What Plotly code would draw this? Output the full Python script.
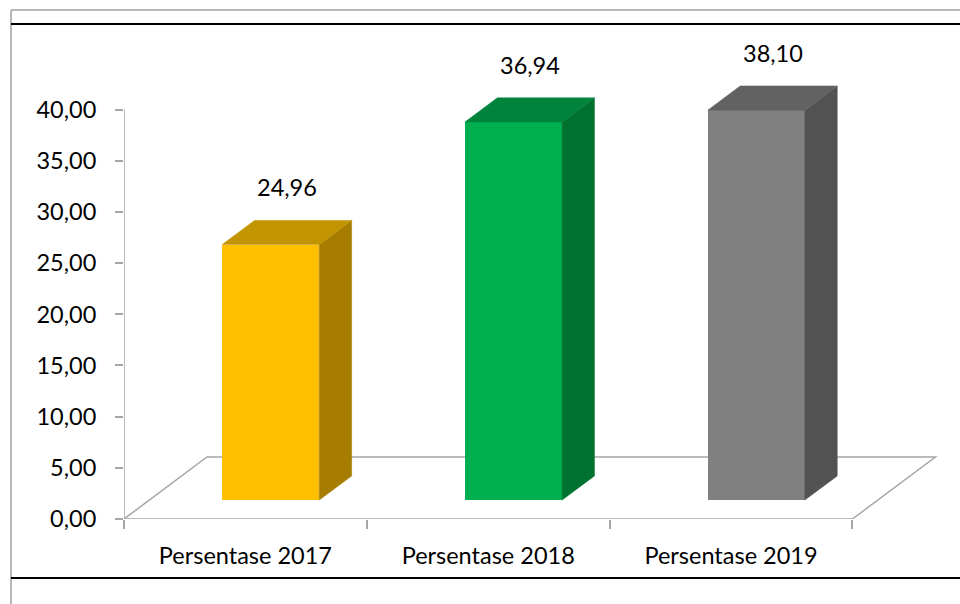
import plotly.graph_objects as go

# ---- data ----
categories = ["Persentase 2017", "Persentase 2018", "Persentase 2019"]
values = [24.96, 36.94, 38.10]
value_labels = ["24,96", "36,94", "38,10"]
y_tickvals = [0, 5, 10, 15, 20, 25, 30, 35, 40]
y_ticktext = ["0,00", "5,00", "10,00", "15,00", "20,00", "25,00", "30,00", "35,00", "40,00"]

front_colors = ["#FFC000", "#00B050", "#808080"]
top_colors = ["#C29400", "#00843C", "#626262"]
side_colors = ["#A67D00", "#00722F", "#525252"]

# ---- geometry (pseudo-3D) ----
W_PX, H_PX = 960, 604
ML, MR, MT, MB = 124, 10, 59, 85
PX_PER_X = 242.8
PX_PER_Y = 10.235
plot_w = W_PX - ML - MR
plot_h = H_PX - MT - MB
x_max = plot_w / PX_PER_X
y_max = plot_h / PX_PER_Y

DX = 83 / PX_PER_X      # depth vector (x units)
DY = 62 / PX_PER_Y      # depth vector (y units)
T0, T1 = 0.305, 0.695   # bar depth slice
BW = 0.4                # bar width
n = len(categories)

FONT = "Lato, Calibri, Carlito, sans-serif"
FS = 23.5
AXIS_GRAY = "#A6A6A6"

fig = go.Figure()

# front faces as bars
fx = [i + 0.5 + T0 * DX for i in range(n)]
fig.add_trace(go.Bar(
    x=fx, y=values, base=[T0 * DY] * n, width=BW,
    marker=dict(color=front_colors, line=dict(width=0)),
    hoverinfo="skip", showlegend=False,
))

# side and top faces
ddx = (T1 - T0) * DX
ddy = (T1 - T0) * DY
for i, v in enumerate(values):
    xl = fx[i] - BW / 2
    xr = fx[i] + BW / 2
    yb = T0 * DY
    yt = yb + v
    # side
    fig.add_trace(go.Scatter(
        x=[xr, xr + ddx, xr + ddx, xr, xr],
        y=[yb, yb + ddy, yt + ddy, yt, yb],
        fill="toself", fillcolor=side_colors[i], mode="lines",
        line=dict(width=0.5, color=side_colors[i]), hoverinfo="skip", showlegend=False,
    ))
    # top
    fig.add_trace(go.Scatter(
        x=[xl, xr, xr + ddx, xl + ddx, xl],
        y=[yt, yt, yt + ddy, yt + ddy, yt],
        fill="toself", fillcolor=top_colors[i], mode="lines",
        line=dict(width=0.5, color=top_colors[i]), hoverinfo="skip", showlegend=False,
    ))
    # value label
    fig.add_annotation(
        x=fx[i] + ddx / 2, y=yt + ddy, text=value_labels[i],
        showarrow=False, yshift=33, yanchor="middle",
        font=dict(family=FONT, size=FS, color="#000000"),
    )

shapes = []
# floor
shapes.append(dict(
    type="path", xref="x", yref="y", layer="below",
    path=f"M 0,0 L {n},0 L {n + DX},{DY} L {DX},{DY} Z",
    line=dict(color=AXIS_GRAY, width=1.5), fillcolor="rgba(0,0,0,0)",
))
# y axis line
shapes.append(dict(type="line", xref="x", yref="y", layer="below",
                   x0=0, x1=0, y0=0, y1=y_tickvals[-1],
                   line=dict(color=AXIS_GRAY, width=1.5)))


def px_to_paper_x(px):
    return (px - ML) / plot_w


def px_to_paper_y(py):
    return (H_PX - MB - py) / plot_h


# frame lines
shapes.append(dict(type="line", xref="paper", yref="paper",
                   x0=px_to_paper_x(11), x1=px_to_paper_x(960),
                   y0=px_to_paper_y(10), y1=px_to_paper_y(10),
                   line=dict(color="#A0A0A0", width=1.5)))
shapes.append(dict(type="line", xref="paper", yref="paper",
                   x0=px_to_paper_x(11), x1=px_to_paper_x(11),
                   y0=px_to_paper_y(10), y1=px_to_paper_y(604),
                   line=dict(color="#A0A0A0", width=1.5)))
shapes.append(dict(type="line", xref="paper", yref="paper",
                   x0=px_to_paper_x(11), x1=px_to_paper_x(960),
                   y0=px_to_paper_y(24), y1=px_to_paper_y(24),
                   line=dict(color="#000000", width=2)))
shapes.append(dict(type="line", xref="paper", yref="paper",
                   x0=px_to_paper_x(11), x1=px_to_paper_x(960),
                   y0=px_to_paper_y(578), y1=px_to_paper_y(578),
                   line=dict(color="#000000", width=2)))

fig.update_layout(
    width=W_PX, height=H_PX,
    margin=dict(l=ML, r=MR, t=MT, b=MB, pad=0),
    paper_bgcolor="white", plot_bgcolor="white",
    showlegend=False,
    shapes=shapes,
    font=dict(family=FONT, size=FS, color="#000000"),
    xaxis=dict(
        range=[0, x_max], fixedrange=True,
        tickmode="array", tickvals=[i + 0.5 for i in range(n)], ticktext=categories,
        ticks="", showgrid=False, zeroline=False, showline=False,
        ticklabelstandoff=20,
        tickfont=dict(family=FONT, size=FS, color="#000000"),
        minor=dict(tickmode="array", tickvals=list(range(n + 1)), ticks="outside",
                   ticklen=9, tickwidth=1.5, tickcolor=AXIS_GRAY, showgrid=False),
    ),
    yaxis=dict(
        range=[0, y_max], fixedrange=True,
        tickmode="array", tickvals=y_tickvals, ticktext=y_ticktext,
        ticks="outside", ticklen=8, tickwidth=1.5, tickcolor=AXIS_GRAY,
        showgrid=False, zeroline=False, showline=False,
        ticklabelstandoff=14,
        tickfont=dict(family=FONT, size=FS, color="#000000"),
    ),
    bargap=0,
)

fig.write_html("out.html")
